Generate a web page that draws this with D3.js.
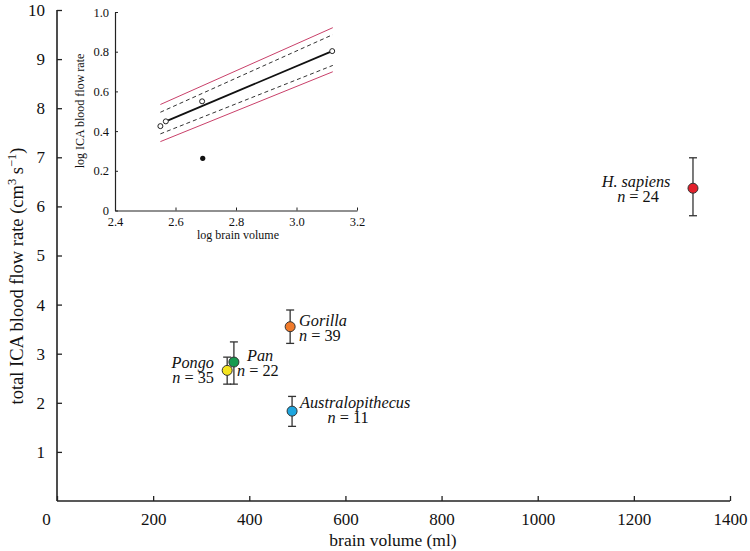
<!DOCTYPE html>
<html><head><meta charset="utf-8">
<script src="https://cdn.jsdelivr.net/npm/d3@7"></script>
<style>
html,body{margin:0;padding:0;background:#fff;}
svg{display:block;font-family:"Liberation Serif","DejaVu Serif",serif;}
</style></head>
<body>
<svg id="c" width="750" height="551"></svg>
<script>
// ---- main chart data ----
const species = ["H. sapiens","Gorilla","Pan","Pongo","Australopithecus"];
const sampleN = [24, 39, 22, 35, 11];
const brainVolume = [1323, 485, 368, 354, 489];
const flowMean = [6.37, 3.55, 2.83, 2.66, 1.83];
const flowLow  = [5.81, 3.21, 2.38, 2.38, 1.52];
const flowHigh = [6.99, 3.89, 3.24, 2.93, 2.13];
const colors = ["#e3202b","#f07a2a","#179a4f","#f4e41e","#1ea6df"];
const xTicks = [0,200,400,600,800,1000,1200,1400];
const yTicks = [1,2,3,4,5,6,7,8,9,10];

// ---- inset data ----
const logVolOpen  = [2.550, 2.568, 2.688, 3.118];
const logFlowOpen = [0.425, 0.449, 0.550, 0.803];
const logVolFilled  = [2.690];
const logFlowFilled = [0.263];
const fitX = [2.566, 3.118];
const fitY = [0.448, 0.803];
const bandX = [2.550, 3.120];
const confUpper = [0.495, 0.886];
const confLower = [0.386, 0.731];
const predUpper = [0.534, 0.921];
const predLower = [0.347, 0.699];
const insetXTicks = [2.4, 2.6, 2.8, 3.0, 3.2];
const insetYTicks = [0, 0.2, 0.4, 0.6, 0.8, 1.0];

const svg = d3.select("#c");
const ink = "#222";

// main scales
const x = d3.scaleLinear().domain([0,1400]).range([57,730]);
const y = d3.scaleLinear().domain([0,10]).range([501,10]);

// axes
const xAxis = svg.append("g").attr("transform","translate(0,501)")
  .call(d3.axisBottom(x).tickValues(xTicks).tickSize(-5).tickSizeOuter(0).tickPadding(12).tickFormat(d3.format("d")));
const yAxis = svg.append("g").attr("transform","translate(57,0)")
  .call(d3.axisLeft(y).tickValues(yTicks).tickSize(-5).tickSizeOuter(0).tickPadding(12).tickFormat(d3.format("d")));
[xAxis,yAxis].forEach(g=>{
  g.select(".domain").attr("stroke",ink).attr("stroke-width",1.6);
  g.selectAll(".tick line").attr("stroke",ink).attr("stroke-width",1.3);
  g.selectAll(".tick text").attr("fill","#111").style("font-size","17px").style("font-family","Liberation Serif, serif");
});
yAxis.select(".domain").attr("d", `M0,${y(10)}V${y(0)}`);
xAxis.select(".domain").attr("d", `M${x(0)},0H${x(1400)}`);
xAxis.selectAll(".tick").filter(d=>d===0).select("text").attr("dx",-11);

// axis titles
svg.append("text").attr("x",393).attr("y",546).attr("text-anchor","middle")
  .style("font-size","17.5px").attr("fill","#111").text("brain volume (ml)");
const yt = svg.append("text").attr("transform","translate(23,276) rotate(-90)")
  .attr("text-anchor","middle").style("font-size","18.5px").attr("fill","#111");
yt.append("tspan").text("total ICA blood flow rate (cm");
yt.append("tspan").attr("dy",-7).style("font-size","12.5px").text("3");
yt.append("tspan").attr("dy",7).text(" s");
yt.append("tspan").attr("dy",-7).style("font-size","12.5px").text("\u22121");
yt.append("tspan").attr("dy",7).text(")");

// error bars and points
const data = species.map((s,i)=>({s, n:sampleN[i], v:brainVolume[i], m:flowMean[i], lo:flowLow[i], hi:flowHigh[i], c:colors[i]}));
const eb = svg.append("g").attr("stroke","#333").attr("stroke-width",1.3).attr("fill","none");
data.forEach(d=>{
  eb.append("line").attr("x1",x(d.v)).attr("x2",x(d.v)).attr("y1",y(d.lo)).attr("y2",y(d.hi));
  eb.append("line").attr("x1",x(d.v)-4).attr("x2",x(d.v)+4).attr("y1",y(d.lo)).attr("y2",y(d.lo));
  eb.append("line").attr("x1",x(d.v)-4).attr("x2",x(d.v)+4).attr("y1",y(d.hi)).attr("y2",y(d.hi));
});
svg.append("g").selectAll("circle").data(data).join("circle")
  .attr("cx",d=>x(d.v)).attr("cy",d=>y(d.m)).attr("r",5)
  .attr("fill",d=>d.c).attr("stroke","#333").attr("stroke-width",1);

// label placement (one text element per label, two lines)
const labelPos = {
  "H. sapiens":       {x:636, y1:187, x2:638, y2:202, a:"middle"},
  "Gorilla":          {x:299, y1:326, x2:299, y2:341, a:"start"},
  "Pan":              {x:247, y1:361, x2:237, y2:376, a:"start"},
  "Pongo":            {x:214, y1:368, x2:214, y2:383, a:"end"},
  "Australopithecus": {x:300, y1:408, x2:348, y2:423, a:"start", a2:"middle"}
};
data.forEach(d=>{
  const p = labelPos[d.s];
  const t = svg.append("text").style("font-size","16.3px").attr("fill","#111");
  t.append("tspan").attr("x",p.x).attr("y",p.y1).attr("text-anchor",p.a)
    .style("font-style","italic").text(d.s);
  t.append("tspan").attr("x",p.x2).attr("y",p.y2).attr("text-anchor",p.a2||p.a)
    .style("font-style","italic").text("n");
  t.append("tspan").text(" = " + d.n);
});

// ---- inset ----
const ix = d3.scaleLinear().domain([2.4,3.2]).range([115,357]);
const iy = d3.scaleLinear().domain([0,1]).range([210.5,12]);
const ixa = svg.append("g").attr("transform","translate(0,210.5)")
  .call(d3.axisBottom(ix).tickValues(insetXTicks).tickSize(-3).tickSizeOuter(0).tickPadding(7).tickFormat(d3.format(".1f")));
const iya = svg.append("g").attr("transform","translate(115,0)")
  .call(d3.axisLeft(iy).tickValues(insetYTicks).tickSize(-3).tickSizeOuter(0).tickPadding(6).tickFormat(d=>d===0?"0":d3.format(".1f")(d)));
[ixa,iya].forEach(g=>{
  g.select(".domain").attr("stroke",ink).attr("stroke-width",1.2);
  g.selectAll(".tick line").attr("stroke",ink).attr("stroke-width",1);
  g.selectAll(".tick text").attr("fill","#111").style("font-size","12.5px").style("font-family","Liberation Serif, serif");
});
svg.append("text").attr("x",238).attr("y",239).attr("text-anchor","middle")
  .style("font-size","12px").attr("fill","#111").text("log brain volume");
svg.append("text").attr("transform","translate(84,111) rotate(-90)").attr("text-anchor","middle")
  .style("font-size","12px").attr("fill","#111").text("log ICA blood flow rate");

const line = d3.line().x(d=>ix(d[0])).y(d=>iy(d[1]));
const pair = (xs,ys)=>xs.map((v,i)=>[v,ys[i]]);
const pink = "#c9406a";
svg.append("path").attr("d",line(pair(bandX,predUpper))).attr("stroke",pink).attr("stroke-width",1).attr("fill","none");
svg.append("path").attr("d",line(pair(bandX,predLower))).attr("stroke",pink).attr("stroke-width",1).attr("fill","none");
svg.append("path").attr("d",line(pair(bandX,confUpper))).attr("stroke","#333").attr("stroke-width",1).attr("stroke-dasharray","4,3").attr("fill","none");
svg.append("path").attr("d",line(pair(bandX,confLower))).attr("stroke","#333").attr("stroke-width",1).attr("stroke-dasharray","4,3").attr("fill","none");
svg.append("path").attr("d",line(pair(fitX,fitY))).attr("stroke","#111").attr("stroke-width",1.8).attr("fill","none");
svg.append("g").selectAll("circle").data(pair(logVolOpen,logFlowOpen)).join("circle")
  .attr("cx",d=>ix(d[0])).attr("cy",d=>iy(d[1])).attr("r",2.5)
  .attr("fill","#fff").attr("stroke","#222").attr("stroke-width",1);
svg.append("g").selectAll("circle").data(pair(logVolFilled,logFlowFilled)).join("circle")
  .attr("cx",d=>ix(d[0])).attr("cy",d=>iy(d[1])).attr("r",2.6).attr("fill","#111");
</script>
</body></html>
